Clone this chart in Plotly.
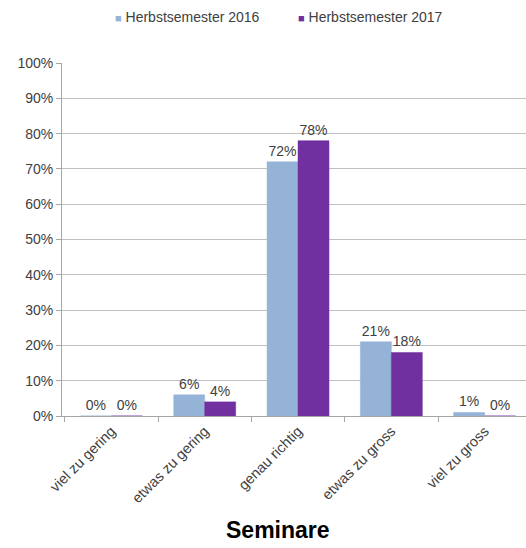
import plotly.graph_objects as go

categories = ["viel zu gering", "etwas zu gering", "genau richtig", "etwas zu gross", "viel zu gross"]
hs2016 = [0, 6, 72, 21, 1]
hs2017 = [0, 4, 78, 18, 0]
series_names = ["Herbstsemester 2016", "Herbstsemester 2017"]
series_colors = ["#95B3D7", "#7030A0"]
y_ticks = list(range(0, 101, 10))
y_tick_labels = [f"{v}%" for v in y_ticks]

FONT = "Liberation Sans, Arial, sans-serif"
TEXT = "#404040"

fig = go.Figure()
for name, vals, col in zip(series_names, [hs2016, hs2017], series_colors):
    fig.add_trace(go.Bar(
        x=categories, y=vals, name=name,
        marker=dict(color=col, line=dict(color=col, width=0.5)),
        text=[f"{v}%" for v in vals], textposition="outside",
        textfont=dict(family=FONT, size=14, color=TEXT),
        cliponaxis=False, showlegend=False,
    ))

# compact legend row: small coloured square followed by the series name
legend_x = [117, 300]
annotations = []
for name, col, px in zip(series_names, series_colors, legend_x):
    annotations.append(dict(
        text=f"<span style='color:{col};font-size:11px'>■</span> {name}",
        xref="paper", yref="paper",
        x=(px - 4 - 62) / 464, y=(416 - 17) / 353,
        xanchor="left", yanchor="middle", showarrow=False,
        font=dict(family=FONT, size=14, color=TEXT),
    ))
annotations.append(dict(
    text="<b>Seminare</b>", xref="paper", yref="paper",
    x=(278 - 62) / 464, y=(416 - 530) / 353,
    xanchor="center", yanchor="middle", showarrow=False,
    font=dict(family=FONT, size=23, color="#000000"),
))

fig.update_layout(
    width=526, height=548,
    margin=dict(l=62, r=0, t=63, b=132),
    paper_bgcolor="white", plot_bgcolor="white",
    barmode="group", bargap=0.336, bargroupgap=0,
    font=dict(family=FONT, size=14, color=TEXT),
    xaxis=dict(
        range=[-0.529, 4.443],
        tickangle=-45, tickson="boundaries", ticks="outside", ticklen=5,
        tickcolor="#A6A6A6", showline=True, linecolor="#A6A6A6", linewidth=1,
        tickfont=dict(family=FONT, size=14.5, color=TEXT),
    ),
    yaxis=dict(
        range=[0, 100], tickvals=y_ticks, ticktext=y_tick_labels,
        showgrid=True, gridcolor="#BFBFBF", gridwidth=1,
        ticks="outside", ticklen=5, tickcolor="#A6A6A6",
        showline=True, linecolor="#A6A6A6", linewidth=1,
        zeroline=False,
        tickfont=dict(family=FONT, size=14, color=TEXT),
    ),
    annotations=annotations,
)

fig.write_html("out.html")
